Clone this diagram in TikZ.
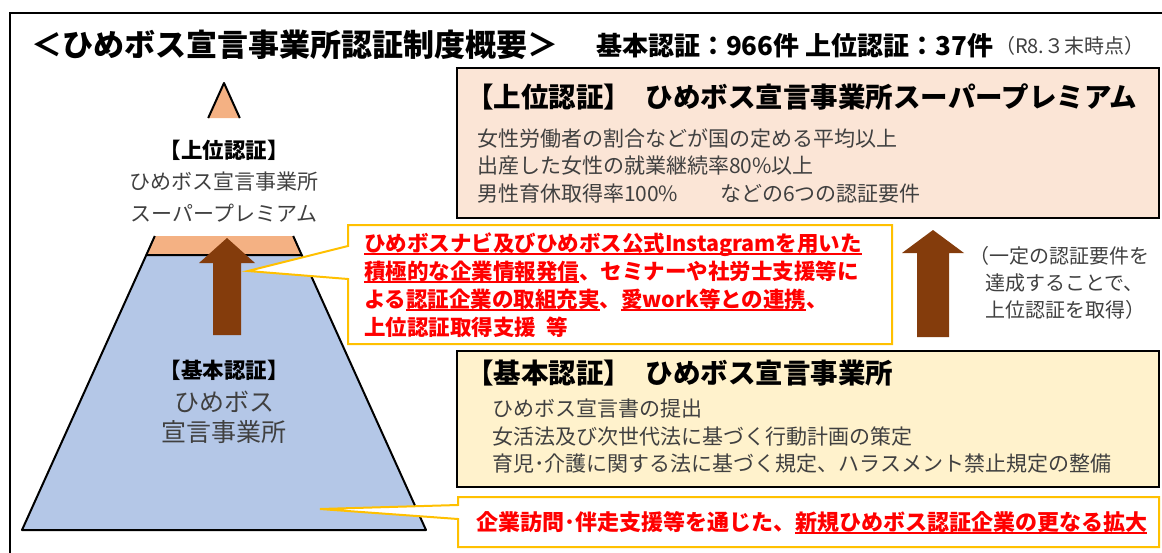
\documentclass[tikz,border=0pt]{standalone}
\usepackage{fontspec}
\setmainfont{Noto Sans CJK JP}
\definecolor{orng}{HTML}{F4B183}
\definecolor{blu}{HTML}{B4C7E7}
\definecolor{brn}{HTML}{843C0C}
\definecolor{pnk}{HTML}{FBE5D6}
\definecolor{lyel}{HTML}{FFF2CC}
\definecolor{gold}{HTML}{FFC000}
\definecolor{txtg}{HTML}{404040}
\definecolor{rd}{HTML}{FF0000}
\newcommand\fs[1]{\fontsize{#1}{#1}\selectfont}
\newcommand\myul[1]{\setbox0=\hbox{#1}\rlap{\rule[-3.4pt]{\wd0}{1.4pt}}\box0}
\tikzset{
  bx/.style={inner sep=0pt, outer sep=0pt},
  ttl/.style={bx, font=\fs{31}\bfseries, text height=27.3pt, text depth=3.7pt},
  stat/.style={bx, font=\fs{26}\bfseries, text height=22.9pt, text depth=3.1pt},
  notet/.style={bx, font=\fs{20}, text=txtg, text height=17.6pt, text depth=2.4pt},
  hdr/.style={bx, font=\fs{27.5}\bfseries, text height=24.2pt, text depth=3.3pt},
  body/.style={bx, font=\fs{21}, text=txtg, text height=18.5pt, text depth=2.5pt},
  redt/.style={bx, font=\fs{21.5}\bfseries, text=rd, text height=18.9pt, text depth=2.6pt},
  redb/.style={bx, font=\fs{22}\bfseries, text=rd, text height=19.4pt, text depth=2.6pt},
  pyb/.style={bx, font=\fs{21.5}\bfseries, text height=18.9pt, text depth=2.6pt},
  pyr/.style={bx, font=\fs{21}, text=txtg, text height=18.5pt, text depth=2.5pt},
  pyl/.style={bx, font=\fs{25}, text=txtg, text height=22pt, text depth=3pt},
  box/.style={draw=black, line width=2pt, inner sep=0pt},
  pyline/.style={draw=black, line width=2pt, line join=round},
  callout/.style={draw=gold, fill=white, line width=2pt, line join=miter},
  blockarrow/.style={fill=brn},
}
\begin{document}
\begin{tikzpicture}[x=1pt,y=-1pt]
\useasboundingbox (0,0) rectangle (1162,552);
% outer frame
\draw[line width=2pt] (9.5,12.5) rectangle (1172,566);
% title
\node[ttl, anchor=west] (title) at (31,45) {＜ひめボス宣言事業所認証制度概要＞};
\node[stat, anchor=west] (stat) at (596,46) {基本認証：966件 上位認証：37件};
\node[notet, anchor=west] (date) at ([xshift=2pt]stat.east) {（R8.３末時点）};
% pyramid
\fill[orng] (224,83) -- (208.2,118) -- (239.8,118) -- cycle;
\draw[pyline] (208.2,118) -- (224,83) -- (239.8,118);
\fill[orng] (154.8,236) -- (293.2,236) -- (301.7,255) -- (146.3,255) -- cycle;
\draw[pyline] (154.8,236) -- (146.3,255);
\draw[pyline] (293.2,236) -- (301.7,255);
\filldraw[fill=blu, pyline] (146.3,255) -- (301.7,255) -- (426,530) -- (22,530) -- cycle;
\node[pyb] (p1) at (224,150) {【上位認証】};
\node[pyr] (p2) at (224,181) {ひめボス宣言事業所};
\node[pyr] (p3) at (224,213) {スーパープレミアム};
\node[pyb] (p4) at (224,370) {【基本認証】};
\node[pyl] (p5) at (224,402) {ひめボス};
\node[pyl] (p6) at (224,432) {宣言事業所};
% left brown arrow
\fill[blockarrow] (227,238) -- (255,263) -- (241,263) -- (241,335) -- (213,335) -- (213,263) -- (199,263) -- cycle;
% upper box
\node[box, fill=pnk, minimum width=702pt, minimum height=150pt] (upbox) at (808,143) {};
\node[hdr, anchor=west] (uh) at (466,97) {【上位認証】\hspace{15pt}ひめボス宣言事業所スーパープレミアム};
\node[body, anchor=west] (u1) at (477,138) {女性労働者の割合などが国の定める平均以上};
\node[body, anchor=west] (u2) at (477,165) {出産した女性の就業継続率80\%以上};
\node[body, anchor=west] (u3) at (477,193) {男性育休取得率100\%　　などの6つの認証要件};
% lower box
\node[box, fill=lyel, minimum width=702pt, minimum height=136pt] (lowbox) at (808,419) {};
\node[hdr, anchor=west] (lh) at (466,373) {【基本認証】\hspace{15pt}ひめボス宣言事業所};
\node[body, anchor=west] (l1) at (492,408) {ひめボス宣言書の提出};
\node[body, anchor=west] (l2) at (492,436) {女活法及び次世代法に基づく行動計画の策定};
\node[body, anchor=west] (l3) at (492,463) {育児･介護に関する法に基づく規定、ハラスメント禁止規定の整備};
% right brown arrow
\fill[blockarrow] (933,230) -- (964,253) -- (949,253) -- (949,337) -- (917,337) -- (917,253) -- (902,253) -- cycle;
\node[notet, anchor=west] (r1) at (969,256) {（一定の認証要件を};
\node[notet, anchor=west] (r2) at (985,283) {達成することで、};
\node[notet, anchor=west] (r3) at (985,310) {上位認証を取得）};
% callout 1
\coordinate (tip1) at (248,271);
\draw[callout] (348,225) -- (892,225) -- (892,344) -- (348,344) -- (348,279) -- (tip1) -- (348,246) -- cycle;
\node[redt, anchor=west] (c1) at (364,243) {\myul{ひめボスナビ及びひめボス公式Instagramを用いた}};
\node[redt, anchor=west] (c2) at (364,271) {\myul{積極的な企業情報発信}、セミナーや社労士支援等に};
\node[redt, anchor=west] (c3) at (364,299) {よる\myul{認証企業の取組充実}、\myul{愛work等との連携}、};
\node[redt, anchor=west] (c4) at (364,327) {上位認証取得支援\hspace{0.5em}等};
% callout 2
\coordinate (tip2) at (320,509);
\draw[callout] (458,497) -- (1159,497) -- (1159,547) -- (458,547) -- (458,519) -- (tip2) -- (458,505) -- cycle;
\node[redb, anchor=west] (b1) at (476,522) {企業訪問･伴走支援等を通じた、\myul{新規ひめボス認証企業の更なる拡大}};
\end{tikzpicture}
\end{document}
